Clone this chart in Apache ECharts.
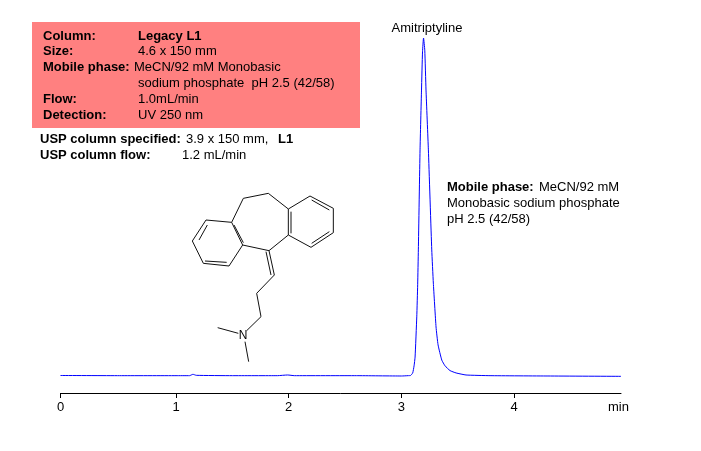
<!DOCTYPE html>
<html>
<head>
<meta charset="utf-8">
<style>html,body{margin:0;padding:0;background:#fff}#c{width:701px;height:451px}</style>
<script src="https://cdn.jsdelivr.net/npm/echarts@6/dist/echarts.min.js"></script>
</head>
<body>
<div id="c"></div>
<script>
const times = [-0.025,0.5,1.0,1.12,1.15,1.18,1.5,1.9,1.99,2.05,2.6,3.0,3.059,3.081,3.1,3.112,3.121,3.136,3.144,3.15,3.165,3.178,3.187,3.196,3.207,3.218,3.239,3.269,3.283,3.307,3.325,3.358,3.387,3.431,3.485,3.573,3.786,4.3,4.948];
const signal = [0.15,0.1,0.1,0.1,0.5,0.2,0.1,0.1,0.3,0.1,0.1,0.0,0.1,0.15,0.9,3,5.6,17.5,27,37.3,66.9,84.6,95.9,100,96.4,84.6,66.9,37.3,27.5,14.5,9.2,4.7,3,1.6,0.9,0.3,0.1,0,-0.1];
const tickValues = [-0.025,1,2,3,4];
const tickLabels = ['0','1','2','3','4'];
const peakName = 'Amitriptyline';
const panelRows = [
  ['Column:',43,36,true],['Legacy L1',138,36,true],
  ['Size:',43,51,true],['4.6 x 150 mm',138,51,false],
  ['Mobile phase:',43,67,true],['MeCN/92 mM Monobasic',134,67,false],
  ['sodium phosphate  pH 2.5 (42/58)',138,83,false],
  ['Flow:',43,99,true],['1.0mL/min',138,99,false],
  ['Detection:',43,115,true],['UV 250 nm',138,115,false],
  ['USP column specified:',40,139,true],['3.9 x 150 mm,',186,139,false],['L1',278,139,true],
  ['USP column flow:',40,155,true],['1.2 mL/min',182,155,false],
  ['Mobile phase:',447,187,true],['MeCN/92 mM',539,187,false],
  ['Monobasic sodium phosphate',447,203,false],
  ['pH 2.5 (42/58)',447,219,false]
];
// skeletal formula, in zoomed-crop units (3x, from 170,180)
const bonds = [
 [108,120,185,127],[185,127,218,195],[218,195,177,258],[177,258,100,250],[100,250,67,183],[67,183,108,120],
 [87,180,112,135],[192,135,220,188],[105,243,170,247],
 [185,127,220,55],[220,55,295,40],[295,40,355,87],[355,87,355,165],[355,165,297,212],[297,212,218,195],
 [355,87,420,48],[420,48,490,85],[490,85,490,158],[490,158,423,202],[423,202,355,165],
 [425,60,478,90],[478,155,425,190],[363,95,363,160],
 [297,212,313,285],[288,215,303,285],
 [313,285,260,340],[260,340,273,410],[273,410,230,452],
 [205,460,143,443],[225,485,236,545]
];
const font = 'Liberation Sans, Arial, sans-serif';
const gfx = [
  {type:'rect',z:1,shape:{x:32,y:22,width:328,height:106},style:{fill:'#ff8080'}},
  ...panelRows.map(r=>({type:'text',z:2,x:r[1],y:r[2],style:{text:r[0],fill:'#000',
     font:(r[3]?'bold ':'')+'13px '+font,textVerticalAlign:'middle',textAlign:'left'}})),
  {type:'text',z:2,x:427,y:28,style:{text:peakName,fill:'#000',font:'13px '+font,textAlign:'center',textVerticalAlign:'middle'}},
  {type:'text',z:2,x:608,y:407,style:{text:'min',fill:'#000',font:'13px '+font,textAlign:'left',textVerticalAlign:'middle'}},
  ...bonds.map(b=>({type:'line',z:2,shape:{x1:170+b[0]/3,y1:180+b[1]/3,x2:170+b[2]/3,y2:180+b[3]/3},style:{stroke:'#111',lineWidth:1}})),
  {type:'text',z:2,x:243,y:336,style:{text:'N',fill:'#000',font:'12px '+font,textAlign:'center',textVerticalAlign:'middle'}}
];
const chart = echarts.init(document.getElementById('c'),null,{renderer:'canvas'});
chart.setOption({
  animation:false,
  backgroundColor:'#fff',
  grid:{left:60.5,top:38,width:560.5,height:355},
  xAxis:{type:'value',min:-0.025,max:4.948,
    axisLine:{show:true,onZero:false,lineStyle:{color:'#000',width:1}},
    axisTick:{show:true,length:5,lineStyle:{color:'#000'},customValues:tickValues},
    axisLabel:{show:true,color:'#000',fontFamily:font,fontSize:13,margin:8,
      customValues:tickValues,formatter:v=>tickLabels[tickValues.indexOf(v)],
      showMinLabel:true,showMaxLabel:true,hideOverlap:false},
    splitLine:{show:false}},
  yAxis:{type:'value',min:-5.03,max:100,show:false,splitLine:{show:false}},
  series:[{type:'line',data:times.map((t,i)=>[t,signal[i]]),symbol:'none',smooth:0.15,
    lineStyle:{color:'#0000ff',width:1},clip:false}],
  graphic:gfx
});
</script>
</body>
</html>
